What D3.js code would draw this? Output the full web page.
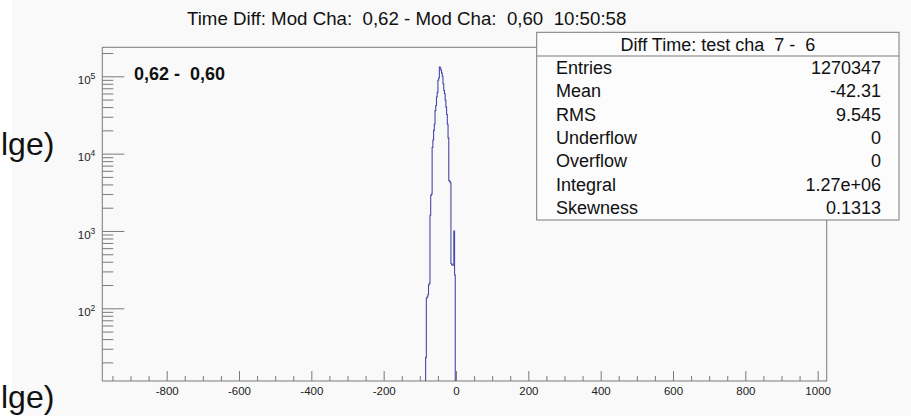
<!DOCTYPE html>
<html>
<head>
<meta charset="utf-8">
<script src="https://cdn.jsdelivr.net/npm/d3@7"></script>
<style>
    body { margin: 0; background: #fff; }
    svg { display: block; font-family: "Liberation Sans", Arial, sans-serif; }
    text { white-space: pre; }
</style>
</head>
<body>
<div id="chart"></div>
<script>
// histogram bins (lower edge, width 2) and contents
var binWidth = 2;
var binLow = [-84, -82, -80, -78, -76, -74, -72, -70, -68, -66, -64, -62, -60, -58, -56, -54, -52, -50, -48, -46,
    -44, -42, -40, -38, -36, -34, -32, -30, -28, -26, -24, -22, -20, -18, -16, -14, -12, -10, -8, -6, -4];
var binCount = [23, 136, 140, 150, 200, 210, 1600, 2900, 3000, 12000, 15000, 20000, 24000, 36000, 42000, 54000, 62000, 89000, 95000, 132000,
    128000, 120000, 110000, 100000, 80000, 66000, 60000, 49000, 40000, 32000, 24000, 16000, 4500, 4400, 4200, 380, 365, 360, 360, 1000, 270];

var xTicks = [-800, -600, -400, -200, 0, 200, 400, 600, 800, 1000];
var yTicks = [100, 1000, 10000, 100000];

var title = "Time Diff: Mod Cha:  0,62 - Mod Cha:  0,60  10:50:58";
var label = "0,62 -  0,60";
var statsTitle = "Diff Time: test cha  7 -  6";
var statNames = ["Entries", "Mean", "RMS", "Underflow", "Overflow", "Integral", "Skewness"];
var statValues = ["1270347", "-42.31", "9.545", "0", "0", "1.27e+06", "0.1313"];

var width = 911, height = 416;
var frame = {left: 102.3, right: 826.7, top: 47.3, bottom: 381};

var svg = d3.select("#chart").append("svg")
    .attr("width", width)
    .attr("height", height);

// light grey canvas, white strip on the very left
svg.append("rect")
    .attr("x", 12).attr("y", 0)
    .attr("width", width - 12).attr("height", height)
    .attr("fill", "#f9f9f9");

// bits of slide text behind the canvas
svg.append("text").attr("x", 1).attr("y", 155)
    .style("font-size", "32px").attr("fill", "#111").text("lge)");
svg.append("text").attr("x", 1).attr("y", 408)
    .style("font-size", "32px").attr("fill", "#111").text("lge)");

var x = d3.scaleLinear()
    .domain([-978, 1025])
    .range([frame.left, frame.right]);

var y = d3.scaleLog()
    .domain([Math.pow(10, 1.06), Math.pow(10, 5.375)])
    .range([frame.bottom, frame.top]);

// frame
svg.append("rect")
    .attr("x", frame.left).attr("y", frame.top)
    .attr("width", frame.right - frame.left).attr("height", frame.bottom - frame.top)
    .attr("fill", "none")
    .attr("stroke", "#7a7a7a");

// histogram outline as steps
var pts = [[binLow[0], y.domain()[0]]];
binLow.forEach(function (lo, i) {
    pts.push([lo, binCount[i]]);
    pts.push([lo + binWidth, binCount[i]]);
});
pts.push([binLow[binLow.length - 1] + binWidth, y.domain()[0]]);

var line = d3.line()
    .x(function (d) { return x(d[0]); })
    .y(function (d) { return y(d[1]); });

svg.append("path")
    .datum(pts)
    .attr("d", line)
    .attr("fill", "none")
    .attr("stroke", "#4848a8")
    .attr("stroke-width", 1.1);

// x axis: major ticks every 200, minor every 50, pointing up
var minorX = d3.range(-950, 1001, 50).filter(function (v) { return v % 200 != 0; });

svg.append("g")
    .attr("transform", "translate(0," + frame.bottom + ")")
    .call(d3.axisBottom(x).tickValues(minorX).tickSize(-5).tickFormat(""))
    .call(function (g) { g.select(".domain").remove(); });

var xAxis = svg.append("g")
    .attr("transform", "translate(0," + frame.bottom + ")")
    .call(d3.axisBottom(x).tickValues(xTicks).tickSize(-10).tickPadding(6)
        .tickFormat(function (d) { return String(d); }));
xAxis.select(".domain").remove();
xAxis.selectAll("text").style("font-size", "11.5px").attr("fill", "#222");

// y axis: log, major ticks at decades, minor at 2..9
var minorY = [];
[10, 100, 1000, 10000, 100000].forEach(function (d) {
    for (var k = 2; k <= 9; k++) {
        var v = d * k;
        if (v > y.domain()[0] && v < y.domain()[1]) minorY.push(v);
    }
});

svg.append("g")
    .attr("transform", "translate(" + frame.left + ",0)")
    .call(d3.axisLeft(y).tickValues(minorY).tickSize(-11).tickFormat(""))
    .call(function (g) { g.select(".domain").remove(); });

var yAxis = svg.append("g")
    .attr("transform", "translate(" + frame.left + ",0)")
    .call(d3.axisLeft(y).tickValues(yTicks).tickSize(-22).tickPadding(7).tickFormat(""));
yAxis.select(".domain").remove();
yAxis.selectAll(".tick text")
    .attr("dy", "0.62em")
    .style("font-size", "11.5px")
    .attr("fill", "#222")
    .each(function (d) {
        var t = d3.select(this);
        t.append("tspan").text("10");
        t.append("tspan").attr("dy", -5).style("font-size", "8.5px")
            .text(Math.round(Math.log10(d)));
    });

svg.selectAll(".tick line").attr("stroke", "#7a7a7a");

// title
svg.append("text")
    .attr("x", 187).attr("y", 25)
    .style("font-size", "18.7px").attr("fill", "#111")
    .text(title);

// bold label in the pad
svg.append("text")
    .attr("x", 134).attr("y", 79.5)
    .style("font-size", "18px").style("font-weight", "bold").attr("fill", "#111")
    .text(label);

// stats box
var box = {left: 536.7, right: 899, top: 32.3, bottom: 220, sep: 56};
svg.append("rect")
    .attr("x", box.left).attr("y", box.top)
    .attr("width", box.right - box.left).attr("height", box.bottom - box.top)
    .attr("fill", "#fcfcfc")
    .attr("stroke", "#7a7a7a");
svg.append("line")
    .attr("x1", box.left).attr("x2", box.right)
    .attr("y1", box.sep).attr("y2", box.sep)
    .attr("stroke", "#7a7a7a");
svg.append("text")
    .attr("x", (box.left + box.right) / 2).attr("y", 51)
    .attr("text-anchor", "middle")
    .style("font-size", "18px").attr("fill", "#111")
    .text(statsTitle);

var rowY = d3.scalePoint().domain(statNames).range([74, 214]);

svg.selectAll(".stat-name")
    .data(statNames)
    .enter().append("text")
    .attr("class", "stat-name")
    .attr("x", 556)
    .attr("y", function (d) { return rowY(d); })
    .style("font-size", "18px").attr("fill", "#111")
    .text(function (d) { return d; });

svg.selectAll(".stat-value")
    .data(statValues)
    .enter().append("text")
    .attr("class", "stat-value")
    .attr("x", 881)
    .attr("y", function (d, i) { return rowY(statNames[i]); })
    .attr("text-anchor", "end")
    .style("font-size", "18px").attr("fill", "#111")
    .text(function (d) { return d; });
</script>
</body>
</html>
